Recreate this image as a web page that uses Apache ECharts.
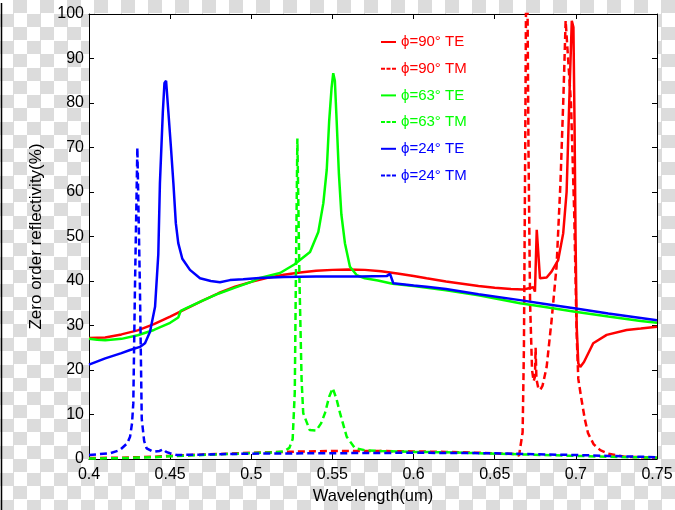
<!DOCTYPE html>
<html>
<head>
<meta charset="utf-8">
<script src="https://cdn.jsdelivr.net/npm/echarts@6/dist/echarts.min.js"></script>
<style>
  html, body { margin: 0; padding: 0; width: 675px; height: 510px; overflow: hidden; }
  body {
    background-color: #fff;
    background-image: conic-gradient(#dcdcdc 0 25%, #fff 0 50%, #dcdcdc 0 75%, #fff 0);
    background-size: 27px 27px;
  }
  #chart { width: 675px; height: 510px; }
</style>
</head>
<body>
<div id="chart"></div>
<script>
// ---- data ----
const seriesNames = ['ϕ=90° TE', 'ϕ=90° TM', 'ϕ=63° TE', 'ϕ=63° TM', 'ϕ=24° TE', 'ϕ=24° TM'];

const wl90TE = [0.400,0.410,0.420,0.430,0.440,0.450,0.460,0.470,0.480,0.490,0.500,0.510,0.520,0.530,0.540,0.550,0.560,0.570,0.580,0.590,0.600,0.608,0.620,0.630,0.640,0.650,0.660,0.6676,0.6738,0.6748,0.6759,0.6779,0.682,0.685,0.6891,0.6922,0.6943,0.6964,0.6975,0.6985,0.6992,0.6998,0.7005,0.7015,0.7027,0.705,0.7107,0.719,0.7313,0.740,0.750];
const r90TE  = [27.2,27.3,28.0,28.9,30.3,32.0,33.8,35.6,37.3,38.7,39.8,40.7,41.4,41.9,42.3,42.5,42.6,42.5,42.2,41.7,41.1,40.6,39.9,39.4,38.9,38.5,38.2,38.1,38.6,37.6,51.5,40.6,40.8,42.1,44.7,50.7,60.0,86.0,98.5,97.0,75.0,50.0,30.0,21.5,20.7,21.8,26.0,27.9,29.0,29.3,29.7];

const wl90TM = [0.400,0.420,0.440,0.450,0.470,0.500,0.520,0.550,0.580,0.600,0.620,0.640,0.655,0.662,0.665,0.6672,0.668,0.6688,0.6697,0.6708,0.6718,0.673,0.674,0.6748,0.6752,0.6757,0.6768,0.678,0.6795,0.682,0.685,0.6881,0.6905,0.6923,0.6937,0.6948,0.697,0.699,0.7005,0.7015,0.7035,0.7055,0.7075,0.711,0.715,0.720,0.730,0.750];
const r90TM  = [0.2,0.3,0.5,0.7,1.0,1.4,1.6,1.8,1.8,1.7,1.6,1.4,1.2,1.1,0.8,6.0,25.0,70.0,130.0,70.0,35.0,20.0,17.5,18.5,25.0,18.0,16.0,15.5,16.5,20.7,31.0,43.2,62.0,81.0,98.5,98.5,80.0,55.0,28.0,18.0,13.3,9.0,5.8,3.3,2.0,1.2,0.5,0.3];

const wl63TE = [0.400,0.405,0.410,0.420,0.430,0.440,0.450,0.455,0.4565,0.460,0.470,0.480,0.490,0.500,0.5054,0.5177,0.5265,0.5362,0.5413,0.5444,0.5465,0.548,0.5495,0.5505,0.5515,0.5526,0.554,0.5555,0.5577,0.5608,0.565,0.570,0.578,0.587,0.600,0.620,0.640,0.6656,0.680,0.6995,0.720,0.740,0.750];
const r63TE  = [27.0,26.8,26.7,27.0,27.8,29.0,30.6,31.8,33.3,33.9,35.6,37.2,38.5,39.8,40.7,41.8,43.7,46.5,51.0,57.5,65.0,76.0,83.5,86.7,85.0,76.0,64.0,55.0,48.5,43.2,41.3,40.6,40.1,39.4,38.9,37.9,36.8,35.0,34.2,33.1,32.0,31.0,30.6];

const wl63TM = [0.400,0.420,0.440,0.450,0.470,0.500,0.515,0.520,0.5235,0.5255,0.5268,0.5276,0.5284,0.5297,0.531,0.532,0.536,0.540,0.543,0.5454,0.548,0.5502,0.5525,0.5547,0.5588,0.5639,0.5711,0.580,0.600,0.620,0.640,0.660,0.680,0.700,0.720,0.750];
const r63TM  = [0.1,0.2,0.4,0.6,0.9,1.3,1.5,1.7,2.5,4.5,15.0,45.0,72.0,40.0,17.8,10.3,6.5,6.4,8.0,10.3,14.0,15.9,13.5,10.3,5.0,2.4,1.9,1.8,1.6,1.5,1.3,1.1,0.9,0.7,0.5,0.3];

const wl24TE = [0.400,0.410,0.420,0.4253,0.4314,0.4345,0.4376,0.4407,0.4427,0.4437,0.4455,0.4465,0.4475,0.4489,0.4505,0.452,0.4535,0.455,0.4575,0.4622,0.4684,0.475,0.4807,0.4869,0.495,0.505,0.520,0.540,0.567,0.5834,0.5855,0.5875,0.600,0.608,0.620,0.640,0.6656,0.680,0.700,0.720,0.740,0.750];
const r24TE  = [21.2,22.6,23.8,24.5,25.2,26.0,28.6,34.2,46.0,62.0,78.0,84.5,85.0,78.0,70.0,62.0,53.0,48.5,45.0,42.5,40.6,40.0,39.7,40.2,40.4,40.7,40.9,41.0,41.0,41.1,41.6,39.5,39.0,38.7,38.2,37.0,35.7,34.9,33.8,32.7,31.7,31.2];

const wl24TM = [0.400,0.413,0.419,0.4235,0.4253,0.4265,0.4273,0.4283,0.4298,0.4314,0.4325,0.434,0.4355,0.4396,0.4435,0.4458,0.4475,0.4499,0.454,0.470,0.500,0.550,0.600,0.650,0.670,0.700,0.720,0.750];
const r24TM  = [0.9,1.3,2.0,3.5,5.0,8.0,12.5,38.0,70.0,38.0,9.0,4.0,2.4,1.6,1.8,2.2,1.6,1.3,0.9,1.0,1.2,1.3,1.4,1.3,1.1,0.9,0.7,0.4];

const xTicks = { min: 0.4, max: 0.75, step: 0.05 };
const yTicks = { min: 0, max: 100, step: 10 };
const xTitle = 'Wavelength(um)';
const yTitle = 'Zero order reflectivity(%)';

// ---- build chart ----
const zip = (xs, ys) => xs.map((x, i) => [x, ys[i]]);
const seriesData = [zip(wl90TE, r90TE), zip(wl90TM, r90TM), zip(wl63TE, r63TE), zip(wl63TM, r63TM), zip(wl24TE, r24TE), zip(wl24TM, r24TM)];
const colors = ['#ff0000', '#ff0000', '#00ff00', '#00ff00', '#0000ff', '#0000ff'];
const dashed = [false, true, false, true, false, true];

const FONT = 'Liberation Sans, Arial, Helvetica, sans-serif';
const fmtX = v => String(parseFloat(v.toFixed(2)));
const ICON_SOLID = 'path://M0,0h15v2h-15z';
const ICON_DASH = 'path://M0,0h4v2h-4z M5.5,0h4v2h-4z M11,0h4v2h-4z';

const axisCommon = {
  axisLine: { show: true, onZero: false, lineStyle: { color: '#000', width: 1 } },
  axisTick: { show: true, inside: true, length: 5, lineStyle: { color: '#000', width: 1 } },
  splitLine: { show: false }
};

const chart = echarts.init(document.getElementById('chart'), null, { renderer: 'canvas' });
chart.setOption({
  animation: false,
  backgroundColor: 'transparent',
  textStyle: { fontFamily: FONT },
  grid: { left: 89, right: 18, top: 14, bottom: 51, show: true, backgroundColor: '#fff', borderWidth: 0, containLabel: false, outerBoundsMode: 'none' },
  legend: {
    orient: 'vertical', left: 381, top: 34, padding: 0,
    itemWidth: 15, itemHeight: 2, itemGap: 10.7, symbolKeepAspect: false,
    textStyle: { fontSize: 15, lineHeight: 16, fontFamily: FONT },
    data: seriesNames.map((n, i) => ({
      name: n,
      icon: dashed[i] ? ICON_DASH : ICON_SOLID,
      itemStyle: { color: colors[i], borderWidth: 0 },
      textStyle: { color: colors[i] }
    }))
  },
  xAxis: [
    Object.assign({}, axisCommon, {
      type: 'value', position: 'bottom', min: xTicks.min, max: xTicks.max, interval: xTicks.step,
      axisLabel: { color: '#000', fontSize: 16, margin: 8, fontFamily: FONT, formatter: fmtX },
      name: xTitle, nameLocation: 'middle', nameGap: 29,
      nameTextStyle: { color: '#000', fontSize: 16.5, fontFamily: FONT }
    }),
    Object.assign({}, axisCommon, {
      type: 'value', position: 'top', min: xTicks.min, max: xTicks.max, interval: xTicks.step,
      axisLabel: { show: false }
    })
  ],
  yAxis: [
    Object.assign({}, axisCommon, {
      type: 'value', position: 'left', min: yTicks.min, max: yTicks.max, interval: yTicks.step,
      axisLabel: { color: '#000', fontSize: 16, margin: 5, fontFamily: FONT },
      name: yTitle, nameLocation: 'middle', nameGap: 44,
      nameTextStyle: { color: '#000', fontSize: 17, fontFamily: FONT }
    }),
    Object.assign({}, axisCommon, {
      type: 'value', position: 'right', min: yTicks.min, max: yTicks.max, interval: yTicks.step,
      axisLabel: { show: false }
    })
  ],
  graphic: [{
    type: 'line', silent: true,
    shape: { x1: 1.5, y1: 3, x2: 1.5, y2: 510 },
    style: { stroke: '#000', lineWidth: 1.5 }
  }],
  series: seriesNames.map((n, i) => ({
    name: n, type: 'line', xAxisIndex: 0, yAxisIndex: 0,
    data: seriesData[i], symbol: 'none', showSymbol: false, smooth: false, clip: true,
    color: colors[i],
    lineStyle: { color: colors[i], width: 2.5, type: dashed[i] ? [7, 4] : 'solid' },
    emphasis: { disabled: true }
  }))
});
</script>
</body>
</html>
